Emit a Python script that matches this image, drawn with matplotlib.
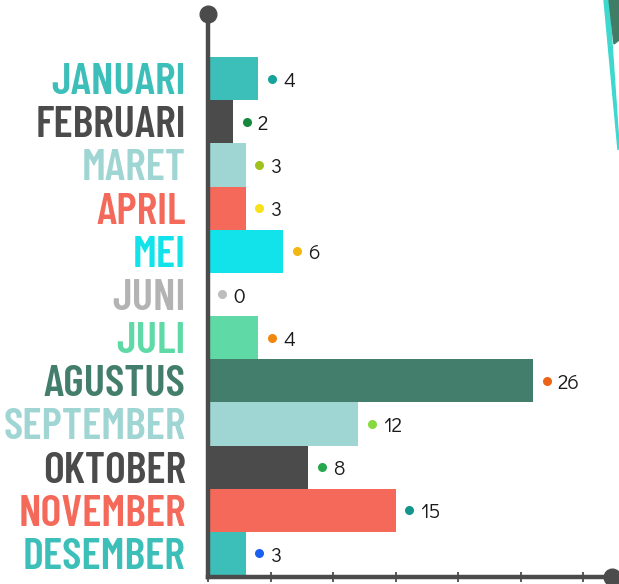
import matplotlib
matplotlib.use("Agg")
import matplotlib.pyplot as plt
from matplotlib.patches import Polygon

# data
bulan = ["JANUARI", "FEBRUARI", "MARET", "APRIL", "MEI", "JUNI", "JULI",
         "AGUSTUS", "SEPTEMBER", "OKTOBER", "NOVEMBER", "DESEMBER"]
jumlah = [4, 2, 3, 3, 6, 0, 4, 26, 12, 8, 15, 3]
warna_bar = ["#3dbfb9", "#4b4b4b", "#9fd5d3", "#f4695a", "#12e3ea", "#b3b3b3",
             "#5fdaa7", "#437e6c", "#9fd5d3", "#4b4b4b", "#f4695a", "#3dbfb9"]
warna_label = ["#3dbfb9", "#4b4b4b", "#9fd5d3", "#f4695a", "#12e3ea", "#b3b3b3",
               "#5fdaa7", "#437e6c", "#9fd5d3", "#4b4b4b", "#f4695a", "#3dbfb9"]
warna_titik = ["#16a39b", "#17883e", "#a0c21c", "#f7e11a", "#f3b711", "#bdbdbd",
               "#f0870f", "#ec6418", "#86da3e", "#25a84d", "#13958c", "#1b5ff0"]
ticks_x = [0, 5, 10, 15, 20, 25, 30]

W, H = 619, 584
fig = plt.figure(figsize=(W / 100, H / 100), dpi=100)

# axes placed in pixel coords: x 208..612, y 14..577 (from top)
ax = fig.add_axes([208 / W, (H - 577) / H, (612 - 208) / W, (577 - 14) / H])
ypos = list(range(len(bulan)))
ax.barh(ypos, jumlah, height=1.0, color=warna_bar, zorder=2)
ax.set_xlim(0, 404 / 12.5)
ax.set_ylim(11.546, -1.496)

for y, v, c in zip(ypos, jumlah, warna_titik):
    ax.plot(v + 1.1, y, 'o', color=c, ms=6.5, mec='none', zorder=3, clip_on=False)
    ax.text(v + 2.0, y + 0.06, str(v), va='center', ha='left', fontsize=15,
            color='#1a1a1a', family=['Didact Gothic', 'Questrial', 'DejaVu Sans'])

ax.set_yticks(ypos)
ax.set_yticklabels(bulan, family=['Barlow Condensed', 'DejaVu Sans'],
                   fontweight='semibold', fontsize=32)
for lab, c in zip(ax.get_yticklabels(), warna_label):
    lab.set_color(c)
ax.tick_params(axis='y', length=0, pad=16)

ax.set_xticks(ticks_x)
ax.set_xticklabels([])
ax.tick_params(axis='x', direction='inout', length=7, width=1.3, color='#4b4b4b')

for s in ['top', 'right']:
    ax.spines[s].set_visible(False)
for s in ['left', 'bottom']:
    ax.spines[s].set_color('#4b4b4b')
    ax.spines[s].set_linewidth(3.2)
    ax.spines[s].set_zorder(4)

# end dots of the axes
ax.plot([0], [-1.496], 'o', color='#4b4b4b', ms=12, clip_on=False, zorder=5)
ax.plot([404 / 12.5], [11.546], 'o', color='#4b4b4b', ms=12, clip_on=False, zorder=5)

# decorative shape cut at top-right corner
def px(x, y):
    return (x / W, 1 - y / H)

fig.patches.append(Polygon([px(604, 0), px(609, 0), px(619, 145), px(618, 150)],
                           closed=True, color='#3fd8cf', transform=fig.transFigure, figure=fig))
fig.patches.append(Polygon([px(609, 0), px(619, 0), px(619, 40), px(614, 44)],
                           closed=True, color='#3f7d67', transform=fig.transFigure, figure=fig))

fig.savefig("out.png", dpi=100)
